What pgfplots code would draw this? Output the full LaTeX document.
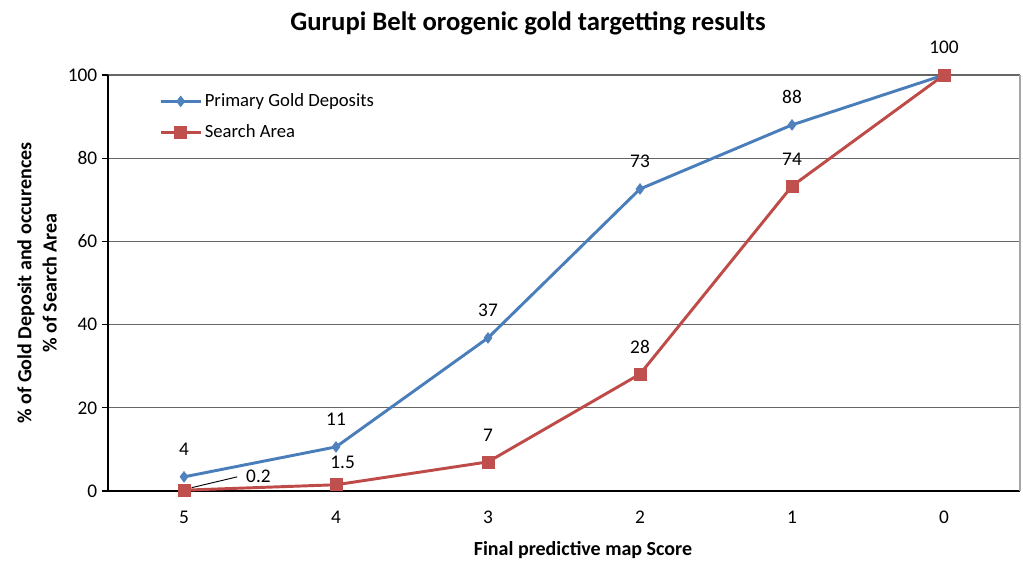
\documentclass[border=0pt]{standalone}
\usepackage{pgfplots}
\pgfplotsset{compat=1.18}
\usepackage{fontspec}
\setmainfont{Carlito}
\definecolor{blueline}{HTML}{4A7EBB}
\definecolor{bluemark}{HTML}{4F81BD}
\definecolor{redline}{HTML}{BE4B48}
\definecolor{redmark}{HTML}{C0504D}
\begin{document}
\begin{tikzpicture}
\begin{axis}[
  at={(0,0)}, anchor=south west,
  scale only axis, width=684pt, height=312pt,
  xmin=-0.5, xmax=5.5, ymin=0, ymax=100,
  xtick={0,1,2,3,4,5}, xticklabels={5,4,3,2,1,0},
  ytick={0,20,40,60,80,100},
  axis x line*=bottom, axis y line*=left,
  axis line style={black, line width=0.8pt},
  xtick style={draw=none},
  ytick style={black, line width=0.8pt},
  tick align=outside, major tick length=4.5pt,
  ymajorgrids, major grid style={black!60, line width=0.8pt},
  tick label style={font=\fontsize{14.5}{17}\selectfont},
  /pgf/number format/assume math mode=true,
  xticklabel style={yshift=-7pt},
  legend style={at={(0.0515,0.968)}, anchor=north west, draw=none, fill=none,
    font=\fontsize{14}{17}\selectfont, row sep=8pt, cells={anchor=west}},
  legend cell align=left,
  legend image code/.code={\draw[mark repeat=2,mark phase=2] plot coordinates {(0pt,0pt) (15pt,0pt) (30pt,0pt)};},
  clip=false,
]
\addplot[color=blueline, line width=2.2pt, mark=diamond*,
  mark size=4pt, mark options={fill=bluemark, draw=bluemark, line width=0.5pt},
  nodes near coords, point meta=explicit symbolic,
  nodes near coords style={anchor=center, yshift=21pt, font=\fontsize{14.5}{17}\selectfont, text=black}]
  coordinates {(0,3.4)[4] (1,10.6)[11] (2,36.8)[37] (3,72.6)[73] (4,88)[88] (5,100)[100]};
\addlegendentry{Primary Gold Deposits}
\addplot[color=redline, line width=2.2pt, mark=square*,
  mark size=4.5pt, mark options={fill=redmark, draw=redmark, line width=0.5pt}]
  coordinates {(0,0.2) (1,1.5) (2,7) (3,28.1) (4,73.3) (5,100)};
\addlegendentry{Search Area}
\addplot[draw=none, mark=none, forget plot,
  nodes near coords, point meta=explicit symbolic,
  nodes near coords style={anchor=center, yshift=20pt, font=\fontsize{14.5}{17}\selectfont, text=black}]
  coordinates {(2,7)[7] (3,28.1)[28] (4,73.3)[74]};
\addplot[draw=none, mark=none, forget plot,
  nodes near coords, point meta=explicit symbolic,
  nodes near coords style={anchor=center, yshift=16.5pt, xshift=5pt, font=\fontsize{14.5}{17}\selectfont, text=black}]
  coordinates {(1,1.5)[1.5]};
\draw[black, line width=0.7pt] (axis cs:0.05,0.8) -- (axis cs:0.35,3.4);
\node[font=\fontsize{14.5}{17}\selectfont] at (axis cs:0.49,3.6) {0.2};
\draw[black!35, line width=0.8pt] (rel axis cs:1,0) -- (rel axis cs:1,1);
\end{axis}
\node[font=\bfseries\fontsize{20}{24}\selectfont] at (315pt,350.5pt) {Gurupi Belt orogenic gold targetting results};
\node[font=\bfseries\fontsize{15}{18}\selectfont] at (356.25pt,-44.25pt) {Final predictive map Score};
\node[font=\bfseries\fontsize{15}{16}\selectfont, rotate=90, align=center] at (-53.25pt,156pt) {\% of Gold Deposit and occurences\\[3pt]\% of Search Area};
\path[use as bounding box] (-81pt,-53.25pt) rectangle (686.25pt,368.25pt);
\end{tikzpicture}
\end{document}
